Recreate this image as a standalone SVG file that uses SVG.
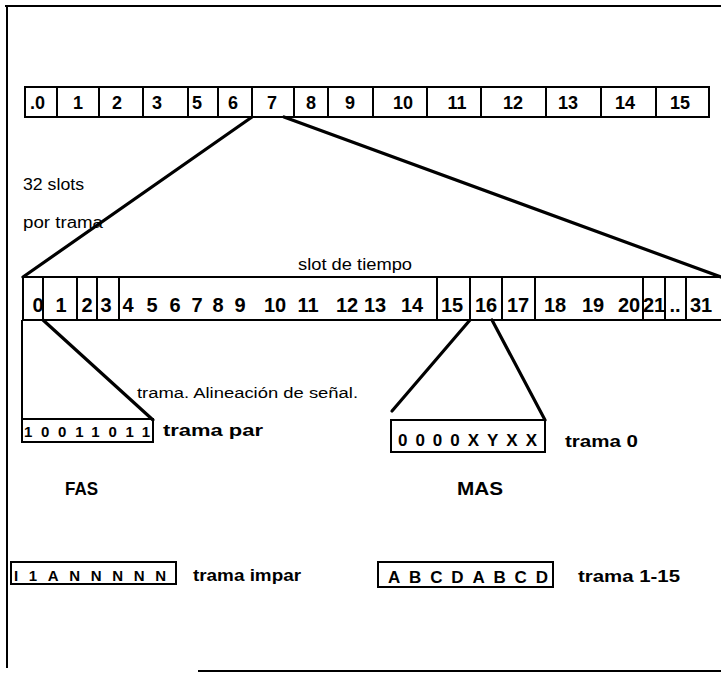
<svg xmlns="http://www.w3.org/2000/svg" width="721" height="673" viewBox="0 0 721 673">
<style>
.ln{stroke:#000;stroke-width:2;fill:none}
.bx{stroke:#000;stroke-width:2;fill:none}
.dg{stroke:#000;stroke-width:3.2;fill:none;stroke-linecap:round}
text{font-family:"Liberation Sans",Arial,sans-serif;fill:#000}
.d1{font-size:18px;font-weight:bold;text-anchor:middle}
.d2{font-size:20px;font-weight:bold;text-anchor:middle}
.b{font-weight:bold}
</style>
<rect width="721" height="673" fill="#fff"/>
<g id="frame">
<line class="ln" x1="5" y1="6" x2="721" y2="6"/>
<line class="ln" x1="7" y1="6" x2="7" y2="668"/>
<line class="ln" x1="198" y1="671" x2="721" y2="671"/>
</g>
<g id="multitrama">
<rect class="bx" x="25" y="87" width="684" height="30"/>
<path class="ln" d="M57 87V117M99 87V117M143 87V117M188 87V117M218 87V117M252 87V117M294 87V117M328 87V117M373 87V117M427 87V117M481 87V117M546 87V117M601 87V117M656 87V117"/>
<text class="d1" x="30" y="109" style="text-anchor:start">.0</text>
<text class="d1" x="78" y="109">1</text>
<text class="d1" x="117" y="109">2</text>
<text class="d1" x="157" y="109">3</text>
<text class="d1" x="197" y="109">5</text>
<text class="d1" x="233" y="109">6</text>
<text class="d1" x="272" y="109">7</text>
<text class="d1" x="311" y="109">8</text>
<text class="d1" x="350" y="109">9</text>
<text class="d1" x="403" y="109">10</text>
<text class="d1" x="457" y="109">11</text>
<text class="d1" x="513" y="109">12</text>
<text class="d1" x="568" y="109">13</text>
<text class="d1" x="625" y="109">14</text>
<text class="d1" x="680" y="109">15</text>
</g>
<g id="labels-left">
<text x="23" y="190" font-size="16" textLength="61" lengthAdjust="spacingAndGlyphs">32 slots</text>
<text x="23" y="228" font-size="16" textLength="80" lengthAdjust="spacingAndGlyphs">por trama</text>
<text x="298" y="270" font-size="16" textLength="114" lengthAdjust="spacingAndGlyphs">slot de tiempo</text>
</g>
<g id="trama">
<line class="ln" x1="23" y1="277" x2="721" y2="277"/>
<line class="ln" x1="23" y1="320" x2="721" y2="320"/>
<path class="ln" d="M23 277V320M43 277V320M77 277V320M97 277V320M119 277V320M437 277V320M470 277V320M502 277V320M535 277V320M643 277V320M665 277V320M686 277V320"/>
<text class="d2" x="38" y="312">0</text>
<text class="d2" x="61" y="312">1</text>
<text class="d2" x="87" y="312">2</text>
<text class="d2" x="106" y="312">3</text>
<text class="d2" x="128" y="312">4</text>
<text class="d2" x="152" y="312">5</text>
<text class="d2" x="175" y="312">6</text>
<text class="d2" x="197" y="312">7</text>
<text class="d2" x="218" y="312">8</text>
<text class="d2" x="240" y="312">9</text>
<text class="d2" x="275" y="312">10</text>
<text class="d2" x="308" y="312">11</text>
<text class="d2" x="347" y="312">12</text>
<text class="d2" x="375" y="312">13</text>
<text class="d2" x="412" y="312">14</text>
<text class="d2" x="452" y="312">15</text>
<text class="d2" x="486" y="312">16</text>
<text class="d2" x="518" y="312">17</text>
<text class="d2" x="555" y="312">18</text>
<text class="d2" x="593" y="312">19</text>
<text class="d2" x="629" y="312">20</text>
<text class="d2" x="654" y="312">21</text>
<text class="d2" x="675" y="312">..</text>
<text class="d2" x="701" y="312">31</text>
</g>
<g id="connectors">
<line class="dg" x1="252" y1="117" x2="23" y2="277"/>
<line class="dg" x1="284" y1="117" x2="721" y2="277"/>
<line class="ln" x1="22" y1="320" x2="22" y2="420"/>
<line class="dg" x1="43" y1="320" x2="153" y2="420"/>
<line class="dg" x1="470" y1="320" x2="392" y2="411"/>
<line class="dg" x1="492" y1="320" x2="545" y2="420"/>
</g>
<g id="fas">
<text x="137" y="398" font-size="14" textLength="221" lengthAdjust="spacingAndGlyphs">trama. Alineación de señal.</text>
<rect class="bx" x="22" y="419" width="131" height="23"/>
<text class="b" x="24" y="437" font-size="15" textLength="126" lengthAdjust="spacing">10011011</text>
<text class="b" x="163" y="436" font-size="16" textLength="100" lengthAdjust="spacingAndGlyphs">trama par</text>
<text class="b" x="65" y="495" font-size="18" textLength="33" lengthAdjust="spacingAndGlyphs">FAS</text>
</g>
<g id="mas">
<rect class="bx" x="391" y="420" width="154" height="32"/>
<text class="b" x="398" y="446" font-size="17" textLength="139" lengthAdjust="spacing">0000XYXX</text>
<text class="b" x="565" y="447" font-size="17" textLength="73" lengthAdjust="spacingAndGlyphs">trama 0</text>
<text class="b" x="457" y="495" font-size="18" textLength="46" lengthAdjust="spacingAndGlyphs">MAS</text>
</g>
<g id="impar">
<rect class="bx" x="11" y="562" width="165" height="22"/>
<text class="b" x="14" y="581" font-size="15" textLength="152" lengthAdjust="spacing">I1ANNNNN</text>
<text class="b" x="193" y="581" font-size="16" textLength="108" lengthAdjust="spacingAndGlyphs">trama impar</text>
</g>
<g id="multi">
<rect class="bx" x="378" y="562" width="175" height="25"/>
<text class="b" x="388" y="583" font-size="17" textLength="160" lengthAdjust="spacing">ABCDABCD</text>
<text class="b" x="578" y="582" font-size="16" textLength="102" lengthAdjust="spacingAndGlyphs">trama 1-15</text>
</g>
</svg>
